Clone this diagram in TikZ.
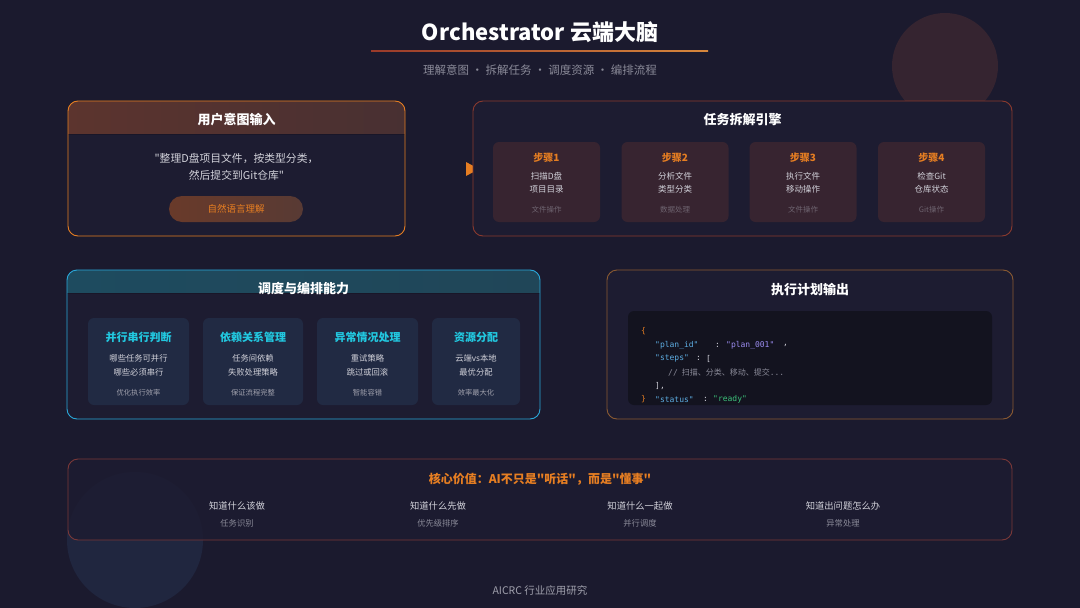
\documentclass[tikz,border=0pt]{standalone}
\usepackage{fontspec}
\setmainfont{Noto Sans CJK SC}
\newfontfamily\rawcjk{Noto Sans CJK SC}
\newfontfamily\codefont{DejaVu Sans Mono}
\usetikzlibrary{shapes.geometric}
\definecolor{bgc}{HTML}{1B1A2E}
\definecolor{panel}{HTML}{1D1C31}
\definecolor{org}{HTML}{E67E22}
\definecolor{brb}{HTML}{8B3A2E}
\definecolor{redb}{HTML}{7A3838}
\definecolor{goldb}{HTML}{8A5A32}
\definecolor{cyanc}{HTML}{22C8E0}
\definecolor{cyanb}{HTML}{2AA8DA}
\definecolor{cardbr}{HTML}{372430}
\definecolor{cardbl}{HTML}{212A43}
\definecolor{lt}{HTML}{D2D2DA}
\definecolor{gr}{HTML}{8A8A98}
\definecolor{dgr}{HTML}{6E6470}
\definecolor{codebg}{HTML}{13131F}
\definecolor{jkey}{HTML}{5DADE2}
\definecolor{jval}{HTML}{9B8CF0}
\definecolor{jgreen}{HTML}{3CC27A}
\definecolor{circr}{HTML}{352430}
\definecolor{circb}{HTML}{20263F}
\definecolor{hdr1a}{HTML}{5C342E}
\definecolor{hdr1b}{HTML}{483032}
\definecolor{hdr3a}{HTML}{1E4B5F}
\definecolor{hdr3b}{HTML}{204658}
\definecolor{pilla}{HTML}{693A2A}
\definecolor{pillb}{HTML}{583A34}
\definecolor{ulinea}{HTML}{9A3A2A}
\definecolor{ulineb}{HTML}{D7873C}
\definecolor{sep}{HTML}{191628}
\tikzset{
  panelbox/.style={rounded corners=10pt, fill=panel, line width=0.9pt},
  boxtitle/.style={text=white, font=\fontsize{13}{15}\selectfont\bfseries},
  stepcard/.style={rounded corners=6pt, fill=cardbr, minimum width=107pt, minimum height=80pt},
  capcard/.style={rounded corners=6pt, fill=cardbl, minimum height=87pt},
  steplab/.style={text=org, font=\fontsize{10}{12}\selectfont\bfseries},
  steptxt/.style={text=lt, font=\fontsize{8.5}{10}\selectfont},
  stepsml/.style={text=dgr, font=\fontsize{7.5}{9}\selectfont},
  captitle/.style={text=cyanc, font=\fontsize{11}{13}\selectfont\bfseries},
  captxt/.style={text=lt, font=\fontsize{8.3}{10}\selectfont},
  capsml/.style={text=gr!80, font=\fontsize{7.3}{9}\selectfont},
  code/.style={font=\codefont\fontsize{8}{10}\selectfont, anchor=west, inner sep=0pt},
  codecjk/.style={font=\fontsize{8}{10}\selectfont, anchor=west, inner sep=0pt},
  valtop/.style={text=lt, font=\fontsize{9.3}{11}\selectfont},
  valsub/.style={text=gr, font=\fontsize{8.3}{10}\selectfont},
}
\begin{document}
\begin{tikzpicture}[x=1pt,y=-1pt]
\fill[bgc] (0,0) rectangle (1080,608);
\useasboundingbox (0,0) rectangle (1080,608);
% decorative circles
\fill[circr] (945,66) circle (53);
\fill[circb] (135,540) circle (68);

% title
\node[text=white, font=\fontsize{22}{26}\selectfont\bfseries] (title) at (540,32) {Orchestrator 云端大脑};
\shade[left color=ulinea, right color=ulineb] (371,50.3) rectangle (708,51.8);
\node[text=gr, font=\fontsize{11.5}{14}\selectfont] (subtitle) at (540,70) {理解意图 · 拆解任务 · 调度资源 · 编排流程};

% Box 1: user intent
\fill[panelbox] (68,101) rectangle (405,236);
\begin{scope}
  \clip[rounded corners=10pt] (68,101) rectangle (405,236);
  \shade[left color=hdr1a, right color=hdr1b] (68,101) rectangle (405,134);
  \draw[sep, line width=1pt] (68,134) -- (405,134);
\end{scope}
\node[draw=org, rounded corners=10pt, line width=0.9pt, minimum width=337pt, minimum height=135pt, inner sep=0pt] (intent) at (236.5,168.5) {};
\node[boxtitle] (intentT) at (236.5,120) {用户意图输入};
\node[text=lt, font=\rawcjk\fontsize{10.8}{17}\selectfont, align=center] (quote) at (236.5,166.5) {"整理D盘项目文件，按类型分类，\\然后提交到Git仓库"};
\node[rounded corners=13pt, minimum width=134pt, minimum height=26pt, left color=pilla, right color=pillb, text=org, font=\fontsize{9.5}{11}\selectfont] (nlu) at (236,209) {自然语言理解};

% arrow marker
\fill[org] (466,162) -- (479,169) -- (466,176) -- cycle;

% Box 2: task decomposition
\node[draw=brb, panelbox, minimum width=539pt, minimum height=135pt] (engine) at (742.5,168.5) {};
\node[boxtitle] (engineT) at (742.5,120) {任务拆解引擎};
\foreach \i/\x/\a/\b/\c in {1/546.5/扫描D盘/项目目录/文件操作, 2/675/分析文件/类型分类/数据处理, 3/803/执行文件/移动操作/文件操作, 4/931.5/检查Git/仓库状态/Git操作}{
  \node[stepcard] (step\i) at (\x,182) {};
  \node[steplab] (step\i l) at (\x,158) {步骤\i};
  \node[steptxt] (step\i a) at (\x,176) {\a};
  \node[steptxt] (step\i b) at (\x,189.5) {\b};
  \node[stepsml] (step\i c) at (\x,210) {\c};
}

% Box 3: scheduling
\fill[panelbox] (67,270) rectangle (540,419);
\begin{scope}
  \clip[rounded corners=10pt] (67,270) rectangle (540,419);
  \shade[left color=hdr3a, right color=hdr3b] (67,270) rectangle (540,293);
  \draw[sep, line width=1pt] (67,293) -- (540,293);
\end{scope}
\node[draw=cyanb, rounded corners=10pt, line width=0.9pt, minimum width=473pt, minimum height=149pt, inner sep=0pt] (sched) at (303.5,344.5) {};
\node[boxtitle] (schedT) at (303.5,289) {调度与编排能力};
\foreach \i/\x/\w/\t/\a/\b/\c in {1/138.5/101/并行串行判断/哪些任务可并行/哪些必须串行/优化执行效率, 2/253/100/依赖关系管理/任务间依赖/失败处理策略/保证流程完整, 3/367.5/101/异常情况处理/重试策略/跳过或回滚/智能容错, 4/476/88/资源分配/云端vs本地/最优分配/效率最大化}{
  \node[capcard, minimum width=\w pt] (cap\i) at (\x,361.5) {};
  \node[captitle] (cap\i t) at (\x,337) {\t};
  \node[captxt] (cap\i a) at (\x,358) {\a};
  \node[captxt] (cap\i b) at (\x,372) {\b};
  \node[capsml] (cap\i c) at (\x,393) {\c};
}

% Box 4: execution plan
\node[draw=goldb, panelbox, minimum width=406pt, minimum height=149pt] (plan) at (810,344.5) {};
\node[boxtitle] (planT) at (810,290) {执行计划输出};
\node[fill=codebg, rounded corners=6pt, minimum width=364pt, minimum height=94pt] (codebox) at (810,358) {};
\node[code, text=org] (c1) at (641,331) {\{};
\node[code, text=jkey] (c2a) at (655,345) {"plan\_id"};
\node[code, text=lt] (c2b) at (715,345) {:};
\node[code, text=jval] (c2c) at (726,345) {"plan\_001"};
\node[code, text=lt] (c2d) at (783,345) {,};
\node[code, text=jkey] (c3a) at (655,358.5) {"steps"};
\node[code, text=lt] (c3b) at (696,358.5) {:};
\node[code, text=lt] (c3c) at (706,358.5) {[};
\node[codecjk, text=gr] (c4) at (668,372.5) {{\codefont//}\hspace{4pt}扫描、分类、移动、提交{\codefont...}};
\node[code, text=lt] (c5) at (655,386) {],};
\node[code, text=org] (c6a) at (641,399.5) {\}};
\node[code, text=jkey] (c6b) at (655,399.5) {"status"};
\node[code, text=lt] (c6c) at (703,399.5) {:};
\node[code, text=jgreen] (c6d) at (713,399.5) {"ready"};

% Box 5: core value
\node[draw=redb, rounded corners=10pt, fill=panel, fill opacity=0.85, draw opacity=1, line width=0.9pt, minimum width=944pt, minimum height=81pt] (core) at (540,499.5) {};
\node[text=org, font=\rawcjk\fontsize{12}{14}\selectfont\bfseries] (coreT) at (540,479) {核心价值：AI不只是"听话"，而是"懂事"};
\foreach \i/\x/\a/\b in {1/237/知道什么该做/任务识别, 2/438/知道什么先做/优先级排序, 3/640/知道什么一起做/并行调度, 4/843/知道出问题怎么办/异常处理}{
  \node[valtop] (v\i a) at (\x,506) {\a};
  \node[valsub] (v\i b) at (\x,523) {\b};
}

% footer
\node[text=gr!80, font=\fontsize{10.5}{12}\selectfont] (footer) at (540,590) {AICRC 行业应用研究};
\end{tikzpicture}
\end{document}
